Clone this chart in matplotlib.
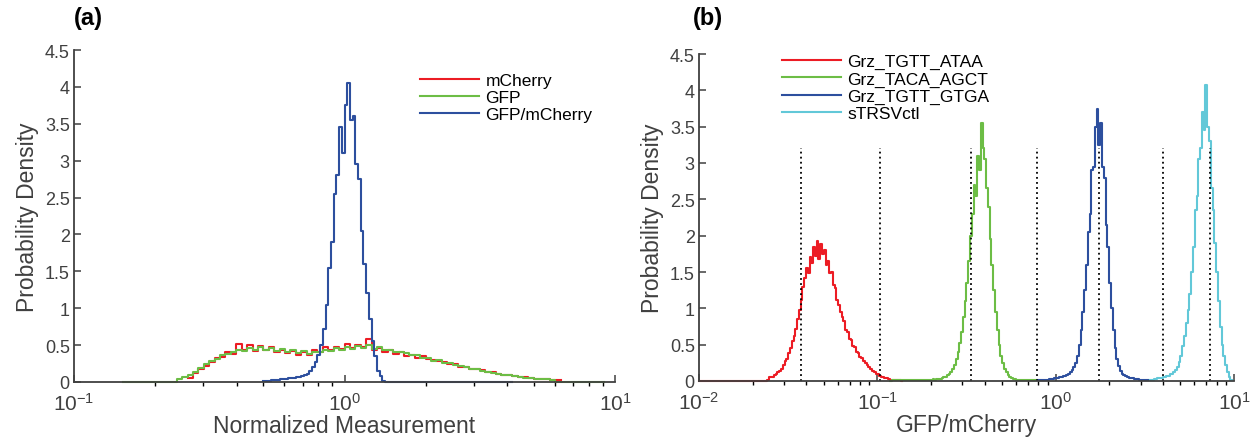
import numpy as np
import matplotlib
matplotlib.use('Agg')
import matplotlib.pyplot as plt
from matplotlib.ticker import FormatStrFormatter, LogLocator, NullFormatter

# ---- (a) histograms, log10 bin start + bin width + densities ----
a_red_start, a_red_step = -0.58, 0.02
a_red = [0.05, 0.12, 0.17, 0.22, 0.27, 0.33, 0.34, 0.40, 0.38, 0.52,
         0.44, 0.50, 0.42, 0.49, 0.43, 0.47, 0.40, 0.44, 0.39, 0.42,
         0.36, 0.41, 0.37, 0.44, 0.41, 0.47, 0.43, 0.48, 0.45, 0.52,
         0.46, 0.50, 0.47, 0.58, 0.44, 0.46, 0.40, 0.43, 0.38, 0.41,
         0.35, 0.37, 0.33, 0.35, 0.31, 0.30, 0.28, 0.27, 0.24, 0.24,
         0.21, 0.21, 0.18, 0.17, 0.16, 0.13, 0.13, 0.11, 0.10, 0.09,
         0.085, 0.07, 0.065, 0.05, 0.045, 0.04, 0.035, 0.03, 0.03]

a_green_start, a_green_step = -0.82, 0.02
a_green = [0] * 10 + [
    0.04, 0.07, 0.10, 0.14, 0.19, 0.24, 0.29, 0.31, 0.36, 0.38,
    0.40, 0.43, 0.42, 0.46, 0.44, 0.47, 0.44, 0.46, 0.42, 0.45,
    0.41, 0.43, 0.39, 0.42, 0.38, 0.41, 0.40, 0.44, 0.42, 0.46,
    0.44, 0.48, 0.45, 0.49, 0.46, 0.50, 0.45, 0.47, 0.43, 0.44,
    0.41, 0.40, 0.39, 0.36, 0.37, 0.33, 0.33, 0.29, 0.30, 0.26,
    0.26, 0.23, 0.22, 0.20, 0.18, 0.17, 0.15, 0.14, 0.12, 0.115,
    0.10, 0.09, 0.08, 0.07, 0.06, 0.05, 0.045, 0.04, 0.035, 0.03,
    0.005] + [0.005] * 8

a_blue_start, a_blue_step = -0.30, 0.01
a_blue = [0.02, 0.02, 0.02, 0.025, 0.025, 0.03, 0.04, 0.045, 0.045, 0.05,
          0.055, 0.06, 0.065, 0.07, 0.08, 0.09, 0.11, 0.15, 0.20, 0.27,
          0.36, 0.50, 0.72, 1.05, 1.55, 1.90, 2.55, 2.80, 3.45, 3.10,
          3.75, 4.05, 3.55, 3.60, 2.95, 2.75, 2.05, 1.60, 1.20, 0.85,
          0.55, 0.35, 0.15, 0.08, 0.02] + [0] * 47

a_labels = ['mCherry', 'GFP', 'GFP/mCherry']

# ---- (b) histograms ----
b_step = 0.01
b_red_start = -2.00
b_red = [0] * 38 + [
    0.02, 0.05, 0.05, 0.06, 0.08, 0.10, 0.12, 0.14, 0.17, 0.22,
    0.27, 0.30, 0.38, 0.46, 0.55, 0.62, 0.72, 0.85,
    0.98, 1.12, 1.30, 1.42, 1.55, 1.48, 1.70, 1.62, 1.85, 1.72,
    1.92, 1.68, 1.88, 1.75, 1.80,
    1.60, 1.65, 1.48, 1.50, 1.32, 1.28, 1.12, 1.05, 0.95, 0.88,
    0.82, 0.70, 0.68, 0.58, 0.57, 0.48, 0.47, 0.40, 0.38, 0.33,
    0.31, 0.28, 0.25, 0.22, 0.19, 0.16, 0.14, 0.12, 0.10, 0.09,
    0.07, 0.06, 0.05, 0.04, 0.035, 0.03, 0.02, 0.02, 0.015, 0.01,
    0.01, 0.01, 0.005]

b_green_start = -0.93
b_green = [0.005, 0.008, 0.01, 0.01, 0.008, 0.01, 0.012, 0.01, 0.01, 0.012,
           0.01, 0.012, 0.014, 0.012, 0.014, 0.015, 0.014, 0.016, 0.015,
           0.016, 0.018, 0.017, 0.02, 0.019, 0.021, 0.02, 0.023, 0.025,
           0.03, 0.04, 0.05, 0.06, 0.08, 0.10, 0.13, 0.17, 0.22, 0.30,
           0.40, 0.52, 0.68, 0.88, 1.10, 1.35, 1.65, 2.00, 2.30, 2.70,
           2.55, 3.10, 2.90, 3.55, 3.20, 3.05, 2.65, 2.40, 1.95, 1.60,
           1.25, 0.95, 0.70, 0.50, 0.35, 0.25, 0.17, 0.12, 0.08, 0.06,
           0.04, 0.03, 0.025,
           0.02, 0.018, 0.016, 0.015, 0.014, 0.013, 0.012, 0.012, 0.011, 0.01,
           0.008]

b_blue_start = -0.10
b_blue = [0.01, 0.01, 0.015, 0.015, 0.02, 0.02, 0.025, 0.025, 0.03, 0.035,
          0.04, 0.045, 0.05, 0.055, 0.065, 0.07, 0.08, 0.10, 0.12, 0.15,
          0.19, 0.25, 0.35, 0.50, 0.70, 0.95, 1.25, 1.60, 2.05, 2.30,
          2.90, 2.95, 3.50, 3.75, 3.25, 3.55, 2.95, 2.80, 2.15, 1.85,
          1.35, 1.00, 0.70, 0.45, 0.30, 0.20, 0.14, 0.10, 0.08, 0.065,
          0.05, 0.045, 0.04, 0.035, 0.03, 0.03, 0.025, 0.02, 0.02, 0.02,
          0.015, 0.01]

b_cyan_start = 0.53
b_cyan = [0.02, 0.02, 0.025, 0.03, 0.035, 0.04, 0.045, 0.05, 0.06, 0.065,
          0.075, 0.09, 0.10, 0.12, 0.15, 0.19, 0.26, 0.35, 0.48, 0.62,
          0.80, 0.98, 1.20, 1.50, 1.85, 2.35, 2.55, 3.05, 3.20, 3.70,
          3.45, 4.08, 3.50, 3.30, 2.65, 2.35, 1.90, 1.50, 1.10, 0.75,
          0.50, 0.35, 0.22, 0.12, 0.05, 0.02]

b_labels = ['Grz_TGTT_ATAA', 'Grz_TACA_AGCT', 'Grz_TGTT_GTGA', 'sTRSVctl']
b_gates = [0.0375, 0.104, 0.335, 0.787, 1.75, 3.98, 7.35]
gate_top = 3.2

RED = '#ec1c24'
GREEN = '#6cbd45'
BLUE = '#2d4f9e'
CYAN = '#62c8d8'
AXC = '#404040'

plt.rcParams['font.family'] = ['Liberation Sans', 'DejaVu Sans']
plt.rcParams['mathtext.fontset'] = 'custom'
plt.rcParams['mathtext.rm'] = 'Liberation Sans'
plt.rcParams['mathtext.default'] = 'regular'


def draw_hist(ax, start, step, vals, color, label):
    # bin edges are evenly spaced in log10
    x = 10.0 ** (start + step * np.arange(len(vals) + 1))
    y = np.append(vals, vals[-1])
    ax.plot(x, y, drawstyle='steps-post', color=color, lw=1.5, label=label, clip_on=False)


def style_axes(ax, xlim, xlabel):
    ax.set_xscale('log')
    ax.set_xlim(*xlim)
    ax.set_ylim(0, 4.5)
    ax.set_yticks(np.arange(0, 4.51, 0.5))
    ax.yaxis.set_major_formatter(FormatStrFormatter('%g'))
    ax.xaxis.set_minor_locator(LogLocator(base=10, subs=np.arange(2, 10), numticks=20))
    ax.xaxis.set_minor_formatter(NullFormatter())
    for s in ['top', 'right']:
        ax.spines[s].set_visible(False)
    for s in ['left', 'bottom']:
        ax.spines[s].set_color(AXC)
        ax.spines[s].set_linewidth(1.3)
    ax.tick_params(direction='in', color=AXC, labelcolor=AXC)
    ax.tick_params(axis='x', which='major', length=5, width=1.1, labelsize=15, pad=7)
    ax.tick_params(axis='x', which='minor', length=3, width=1.0)
    ax.tick_params(axis='y', length=5, width=1.1, labelsize=13, pad=3)
    ax.set_ylabel('Probability Density', fontsize=16.5, color=AXC, labelpad=4)
    ax.set_xlabel(xlabel, fontsize=16.5, color=AXC, labelpad=0)


def add_legend(ax, anchor):
    ax.legend(loc='upper left', bbox_to_anchor=anchor, frameon=False,
              fontsize=12.5, handlelength=3.4, handletextpad=0.35,
              labelspacing=0.12, borderpad=0, borderaxespad=0)


fig = plt.figure(figsize=(12.56, 4.39), dpi=100)

# (a)
ax1 = fig.add_axes([74 / 1256, 1 - 383 / 439, 541 / 1256, 332 / 439])
draw_hist(ax1, a_red_start, a_red_step, a_red, RED, a_labels[0])
draw_hist(ax1, a_green_start, a_green_step, a_green, GREEN, a_labels[1])
draw_hist(ax1, a_blue_start, a_blue_step, a_blue, BLUE, a_labels[2])
style_axes(ax1, (0.1, 10), 'Normalized Measurement')
add_legend(ax1, (0.64, 0.932))

# (b)
ax2 = fig.add_axes([699 / 1256, 1 - 382 / 439, 535 / 1256, 327 / 439])
draw_hist(ax2, b_red_start, b_step, b_red, RED, b_labels[0])
draw_hist(ax2, b_green_start, b_step, b_green, GREEN, b_labels[1])
draw_hist(ax2, b_blue_start, b_step, b_blue, BLUE, b_labels[2])
draw_hist(ax2, b_cyan_start, b_step, b_cyan, CYAN, b_labels[3])
ax2.vlines(b_gates, 0, gate_top, colors='k', linestyles=(0, (1, 1.8)), lw=1.3)
style_axes(ax2, (0.01, 10), 'GFP/mCherry')
add_legend(ax2, (0.155, 1.0))

fig.text(88 / 1256, 1 - 18 / 439, '(a)', ha='center', va='center', fontsize=17, fontweight='bold')
fig.text(708 / 1256, 1 - 18 / 439, '(b)', ha='center', va='center', fontsize=17, fontweight='bold')

fig.savefig('out.png', dpi=100)
